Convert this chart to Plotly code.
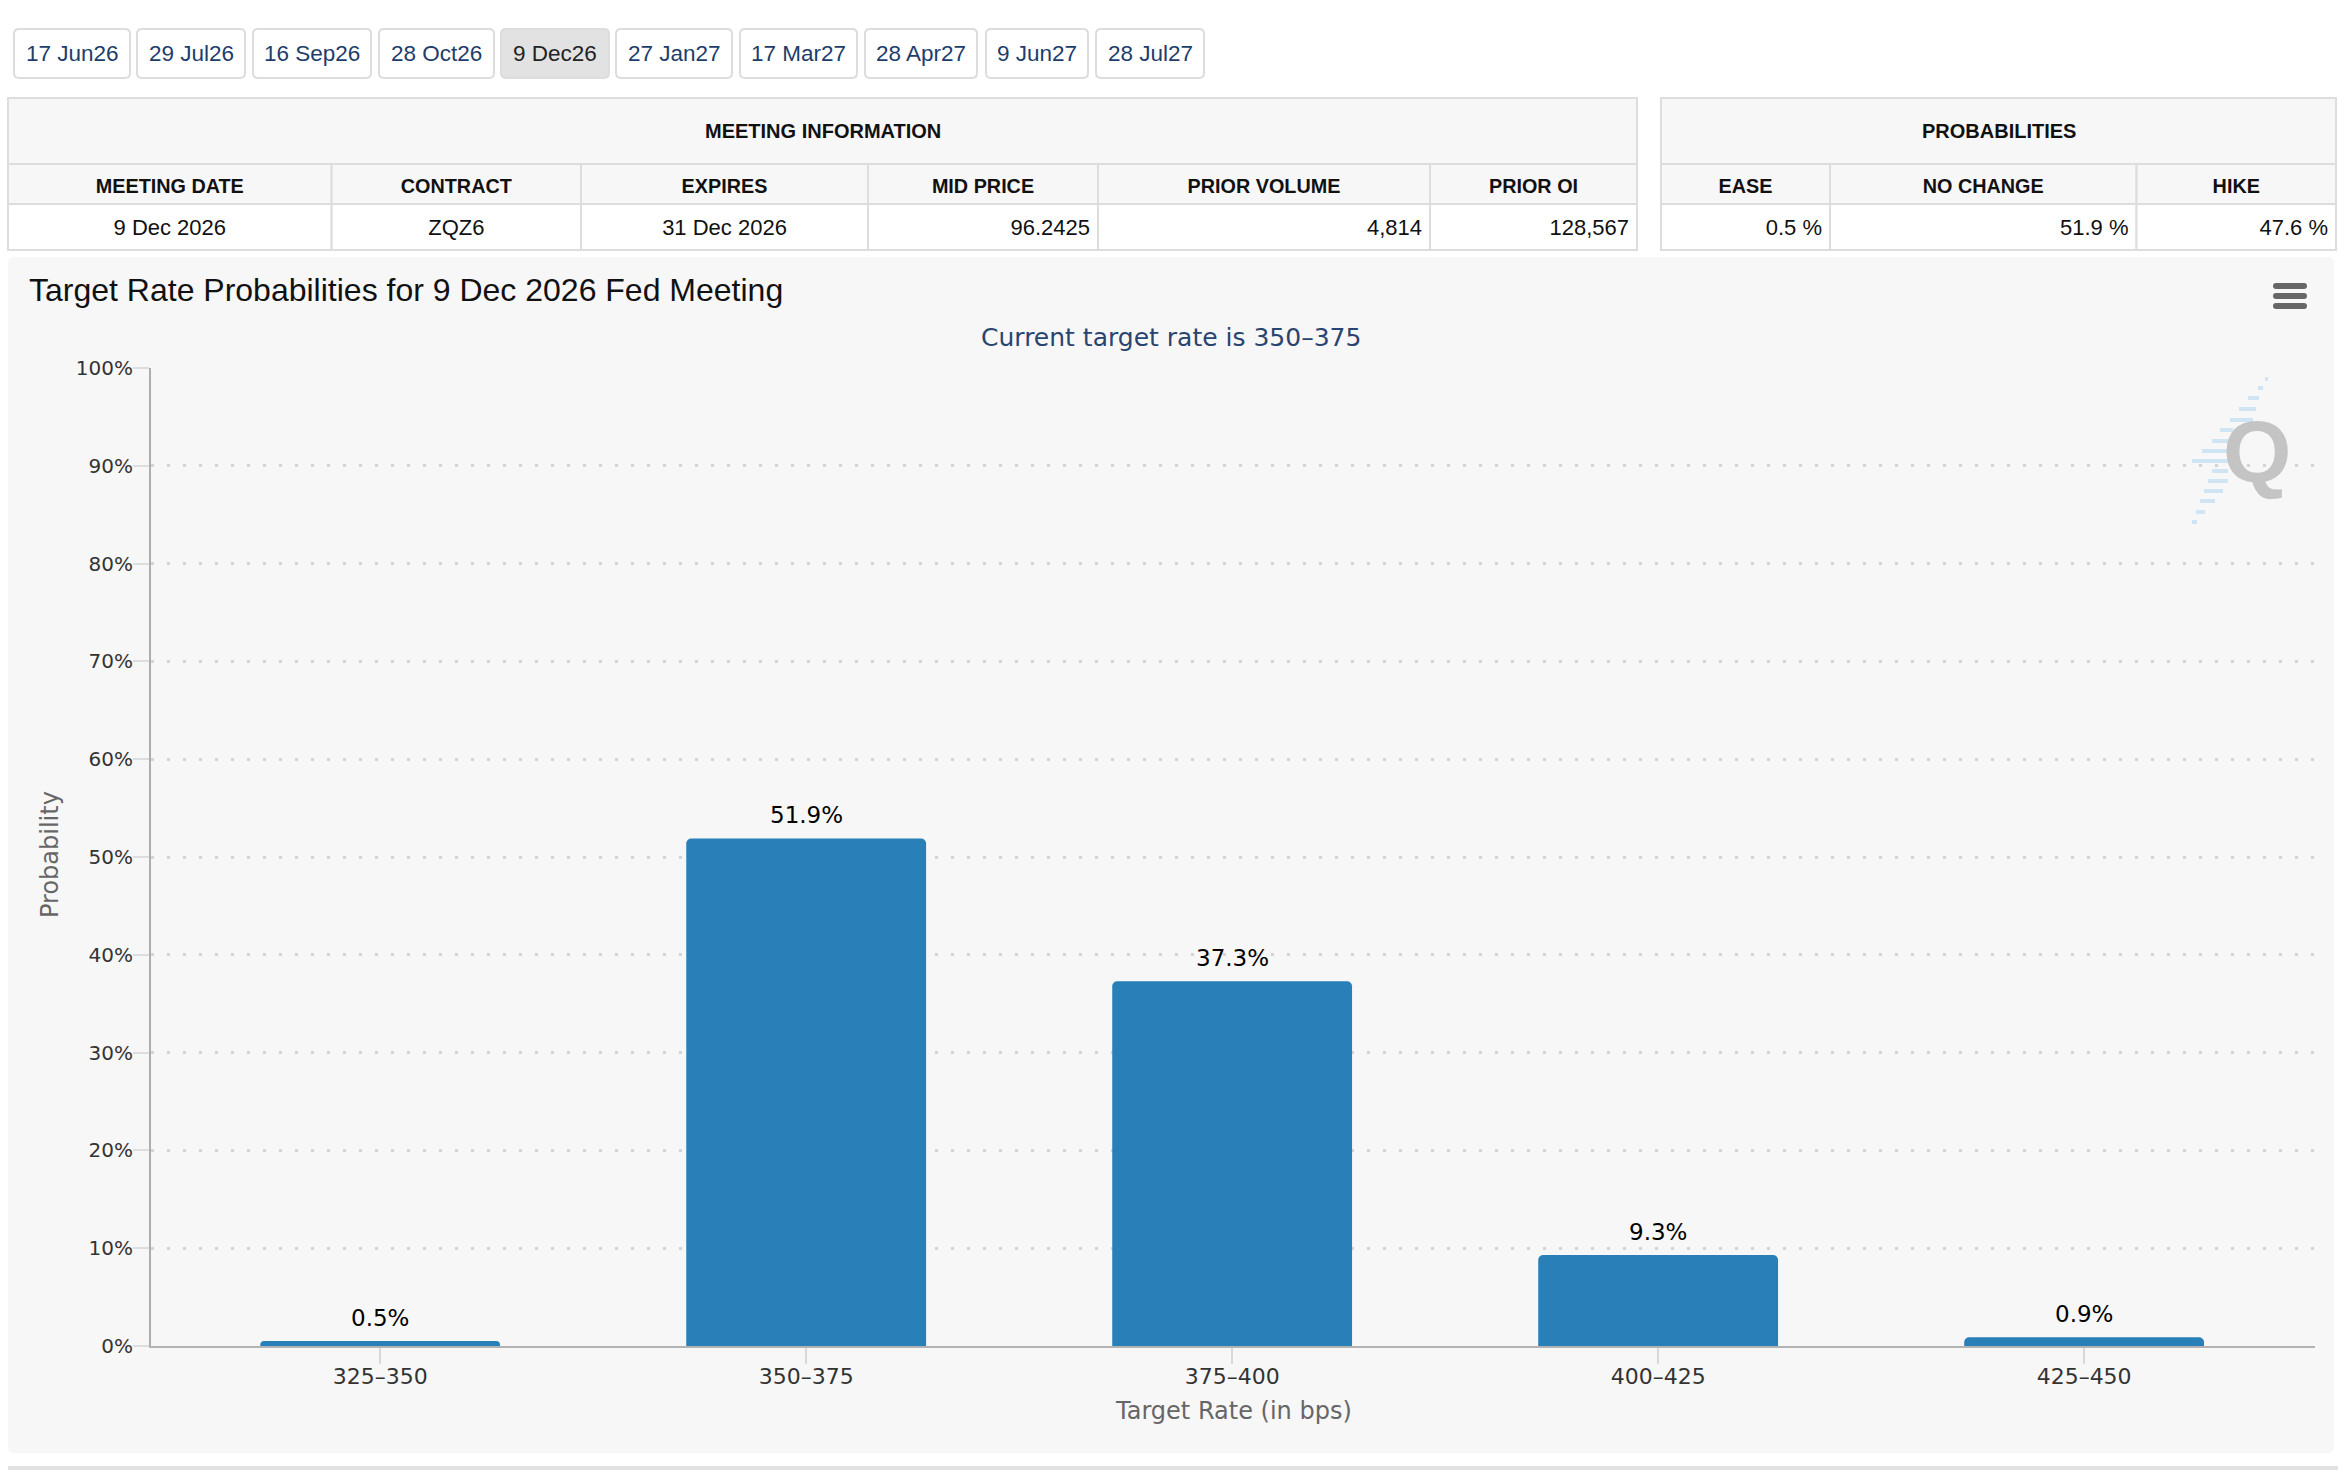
import plotly.graph_objects as go

# ---------------- data ----------------
tab_labels = ["17 Jun26", "29 Jul26", "16 Sep26", "28 Oct26", "9 Dec26",
              "27 Jan27", "17 Mar27", "28 Apr27", "9 Jun27", "28 Jul27"]
active_tab = "9 Dec26"

meeting_columns = ["MEETING DATE", "CONTRACT", "EXPIRES", "MID PRICE", "PRIOR VOLUME", "PRIOR OI"]
meeting_values = ["9 Dec 2026", "ZQZ6", "31 Dec 2026", "96.2425", "4,814", "128,567"]
prob_columns = ["EASE", "NO CHANGE", "HIKE"]
prob_values = ["0.5 %", "51.9 %", "47.6 %"]

categories = ["325–350", "350–375", "375–400", "400–425", "425–450"]
probabilities = [0.5, 51.9, 37.3, 9.3, 0.9]
y_ticks = list(range(0, 101, 10))
y_tick_labels = [f"{v}%" for v in y_ticks]

title_text = "Target Rate Probabilities for 9 Dec 2026 Fed Meeting"
subtitle_text = "Current target rate is 350–375"

# ---------------- layout helpers ----------------
W, H = 2338, 1470


def px(x):
    return x / W


def py(y):
    return 1 - y / H


def rrect_path(x0, y0, x1, y1, r):
    pts = [
        ("M", [(x0 + r, y0)]), ("L", [(x1 - r, y0)]), ("Q", [(x1, y0), (x1, y0 + r)]),
        ("L", [(x1, y1 - r)]), ("Q", [(x1, y1), (x1 - r, y1)]), ("L", [(x0 + r, y1)]),
        ("Q", [(x0, y1), (x0, y1 - r)]), ("L", [(x0, y0 + r)]), ("Q", [(x0, y0), (x0 + r, y0)]),
    ]
    s = ""
    for cmd, ps in pts:
        s += cmd + " " + " ".join(f"{px(a):.6f},{py(b):.6f}" for a, b in ps) + " "
    return s + "Z"


SANS = "Liberation Sans, Arial, sans-serif"
CHART_FONT = "DejaVu Sans, Verdana, sans-serif"
BORDER = "#dddddd"

shapes = []
annotations = []

# tabs
tab_edges = [(14, 130), (137, 245), (253, 371), (379, 494), (501, 609),
             (616, 732), (740, 857), (865, 977), (986, 1088), (1096, 1204)]
for lab, (x0, x1) in zip(tab_labels, tab_edges):
    active = lab == active_tab
    shapes.append(dict(type="path", path=rrect_path(x0, 29, x1, 78, 5), xref="paper", yref="paper",
                       fillcolor="#e2e2e2" if active else "#ffffff",
                       line=dict(color=BORDER, width=2), layer="below"))
    annotations.append(dict(x=px((x0 + x1) / 2), y=py(53.5), xref="paper", yref="paper",
                            text=lab, showarrow=False, xanchor="center", yanchor="middle",
                            font=dict(family=SANS, size=22.5, color="#222222" if active else "#1d3d6b")))

# table frames (cell backgrounds and borders)
meeting_widths = [323.6, 249.4, 287, 230, 332, 207]
prob_widths = [169, 306.5, 199.5]
for (x0, x1, txt, widths) in [(8, 1637, "MEETING INFORMATION", meeting_widths),
                              (1661, 2336, "PROBABILITIES", prob_widths)]:
    shapes.append(dict(type="rect", x0=px(x0), x1=px(x1), y0=py(164), y1=py(98),
                       xref="paper", yref="paper", fillcolor="#f7f7f7",
                       line=dict(color=BORDER, width=2), layer="below"))
    annotations.append(dict(x=px((x0 + x1) / 2), y=py(131), xref="paper", yref="paper",
                            text=f"<b>{txt}</b>", showarrow=False, xanchor="center", yanchor="middle",
                            font=dict(family=SANS, size=20, color="#111111")))
    left = x0
    for w in widths:
        for (ya, yb, fill) in [(164, 204, "#f7f7f7"), (204, 250, "#ffffff")]:
            shapes.append(dict(type="rect", x0=px(left), x1=px(left + w), y0=py(yb), y1=py(ya),
                               xref="paper", yref="paper", fillcolor=fill,
                               line=dict(color=BORDER, width=2), layer="below"))
        left += w

# chart container
shapes.append(dict(type="path", path=rrect_path(8, 257, 2334, 1453, 6), xref="paper", yref="paper",
                   fillcolor="#f7f7f7", line=dict(width=0), layer="below"))
# bottom rule
shapes.append(dict(type="rect", x0=px(8), x1=px(2338), y0=py(1470), y1=py(1466),
                   xref="paper", yref="paper", fillcolor="#e2e2e2", line=dict(width=0), layer="below"))

# hamburger menu
for yc in (286, 296, 306):
    shapes.append(dict(type="path", path=rrect_path(2273, yc - 3, 2307, yc + 3, 3), xref="paper",
                       yref="paper", fillcolor="#666666", line=dict(width=0), layer="above"))

# Q watermark streaks
streaks = [(379, 2265, 2268), (388, 2258, 2263), (398, 2248, 2259), (409, 2239, 2256),
           (420, 2230, 2253), (430, 2220, 2233), (441, 2212, 2228), (451, 2202, 2228),
           (461, 2192, 2230), (471, 2212, 2228), (481, 2208, 2228), (491, 2204, 2223),
           (501, 2200, 2215), (512, 2196, 2205), (522, 2192, 2197)]
for yc, xa, xb in streaks:
    shapes.append(dict(type="rect", x0=px(xa), x1=px(xb), y0=py(yc + 2), y1=py(yc - 2),
                       xref="paper", yref="paper", fillcolor="#cfe5f3", line=dict(width=0),
                       layer="below"))
annotations.append(dict(x=px(2257), y=py(451), xref="paper", yref="paper", text="<b>Q</b>",
                        showarrow=False, xanchor="center", yanchor="middle",
                        font=dict(family=SANS, size=88, color="#c4c4c4")))

# title, subtitle, axis titles
annotations.append(dict(x=px(27), y=py(290), xref="paper", yref="paper", text=title_text,
                        showarrow=False, xanchor="left", yanchor="middle",
                        font=dict(family=SANS, size=32, color="#111111")))
annotations.append(dict(x=px(1171), y=py(337), xref="paper", yref="paper", text=subtitle_text,
                        showarrow=False, xanchor="center", yanchor="middle",
                        font=dict(family=CHART_FONT, size=25, color="#2a4470")))
annotations.append(dict(x=px(50), y=py(855), xref="paper", yref="paper", text="Probability",
                        showarrow=False, textangle=-90, xanchor="center", yanchor="middle",
                        font=dict(family=CHART_FONT, size=24, color="#666666")))
annotations.append(dict(x=px(1233), y=py(1411), xref="paper", yref="paper", text="Target Rate (in bps)",
                        showarrow=False, xanchor="center", yanchor="middle",
                        font=dict(family=CHART_FONT, size=24, color="#666666")))

# data labels above bars (positioned through the data axes)
for cat, val in zip(categories, probabilities):
    annotations.append(dict(x=cat, y=val, xref="x", yref="y", text=f"{val:.1f}%",
                            showarrow=False, xanchor="center", yanchor="bottom", yshift=8,
                            font=dict(family=CHART_FONT, size=23, color="#000000")))

fig = go.Figure()

# tables (text only; frames drawn above)
CLEAR = "rgba(0,0,0,0)"
fig.add_trace(go.Table(
    domain=dict(x=[px(8), px(1637)], y=[py(272), py(167)]),
    columnwidth=meeting_widths,
    header=dict(values=[f"<b>{c}</b>" for c in meeting_columns], height=43,
                fill_color=CLEAR, line=dict(color=CLEAR, width=0), align="center",
                font=dict(family=SANS, size=19.8, color="#111111")),
    cells=dict(values=[[v] for v in meeting_values], height=46,
               fill_color=CLEAR, line=dict(color=CLEAR, width=0),
               align=["center", "center", "center", "right", "right", "right"],
               font=dict(family=SANS, size=22, color="#111111")),
))
fig.add_trace(go.Table(
    domain=dict(x=[px(1661), px(2336)], y=[py(272), py(167)]),
    columnwidth=prob_widths,
    header=dict(values=[f"<b>{c}</b>" for c in prob_columns], height=43,
                fill_color=CLEAR, line=dict(color=CLEAR, width=0), align="center",
                font=dict(family=SANS, size=19.8, color="#111111")),
    cells=dict(values=[[v] for v in prob_values], height=46,
               fill_color=CLEAR, line=dict(color=CLEAR, width=0),
               align="right",
               font=dict(family=SANS, size=22, color="#111111")),
))

# bars
fig.add_trace(go.Bar(
    x=categories, y=probabilities, width=0.563,
    marker=dict(color="#2980b9", cornerradius=5, line=dict(width=0)),
    cliponaxis=False, hoverinfo="skip",
))

fig.update_layout(
    width=W, height=H, margin=dict(l=0, r=0, t=0, b=0, pad=0, autoexpand=False),
    paper_bgcolor="#ffffff", plot_bgcolor="rgba(0,0,0,0)",
    showlegend=False, shapes=shapes, annotations=annotations,
    xaxis=dict(domain=[px(151), px(2315)], type="category", range=[-0.538, 4.542], automargin=False,
               showline=True, linecolor="#b3b3b3", linewidth=2, showgrid=False, zeroline=False,
               ticks="outside", ticklen=16, tickwidth=2, tickcolor="#d8d8d8", ticklabelstandoff=-6,
               tickfont=dict(family=CHART_FONT, size=22, color="#333333"), fixedrange=True),
    yaxis=dict(domain=[py(1346), py(368)], range=[0, 100], automargin=False,
               tickmode="array", tickvals=y_ticks, ticktext=y_tick_labels,
               showline=True, linecolor="#adadad", linewidth=2, zeroline=False,
               showgrid=True, gridcolor="#d4d4d4", gridwidth=3, griddash="3px,13px",
               ticks="outside", ticklen=16, tickwidth=2, tickcolor="#dddddd", ticklabelstandoff=-4,
               tickfont=dict(family=CHART_FONT, size=20, color="#333333"), fixedrange=True),
    hovermode=False,
)

fig.write_html("out.html", config=dict(displayModeBar=False))
